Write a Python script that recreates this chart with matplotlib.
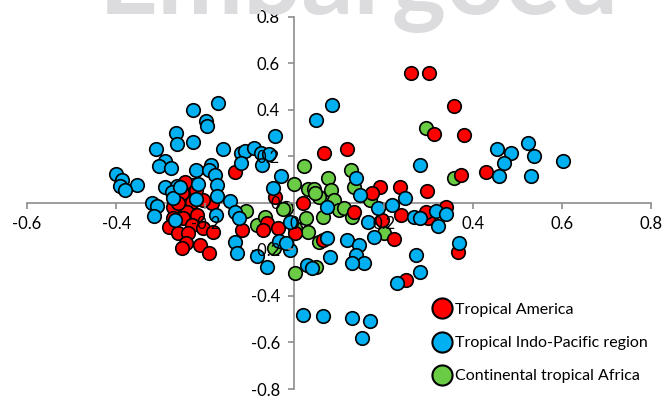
import numpy as np
import matplotlib
matplotlib.use("Agg")
import matplotlib.pyplot as plt
from matplotlib.lines import Line2D
from matplotlib.ticker import FuncFormatter

# ---- data (axis 1 vs axis 2 scores) ----
america_x = [0.261, 0.301, 0.358, 0.380, 0.313, 0.117, 0.067, 0.373, 0.430, 0.191,
             0.236, 0.297, 0.175, 0.020, 0.133, 0.238, 0.196, 0.299, 0.340, 0.295,
             0.223, 0.063, 0.002, 0.367, 0.250, -0.133, -0.227, -0.245, -0.272, -0.238,
             -0.229, -0.184, -0.205, -0.241, -0.218, -0.272, -0.250, -0.229, -0.281, -0.261,
             -0.238, -0.243, -0.252, -0.211, -0.191, -0.117, -0.043, -0.061, -0.036, -0.205,
             -0.182, -0.070, -0.252, -0.261, -0.220]
america_y = [0.558, 0.558, 0.416, 0.292, 0.296, 0.231, 0.214, 0.120, 0.132, 0.068,
             0.068, 0.051, 0.042, -0.001, -0.040, -0.052, -0.074, -0.065, -0.018, -0.040,
             -0.156, -0.160, -0.130, -0.212, -0.332, 0.132, 0.077, 0.089, -0.018, 0.021,
             0.003, -0.001, 0.012, -0.040, -0.052, -0.065, -0.065, -0.095, -0.104, -0.130,
             -0.130, -0.173, -0.194, -0.182, -0.216, -0.117, 0.025, -0.087, -0.108, -0.108,
             -0.126, -0.117, 0.042, -0.001, 0.055]

indopac_x = [-0.310, -0.265, -0.263, -0.290, -0.304, -0.277, -0.400, -0.387, -0.391, -0.353,
             -0.290, -0.263, -0.380, -0.274, -0.272, -0.319, -0.308, -0.315, -0.268, -0.171,
             -0.227, -0.198, -0.196, -0.227, -0.160, -0.043, -0.121, -0.110, -0.090, -0.076,
             -0.058, -0.072, -0.121, -0.220, -0.187, -0.191, -0.178, -0.173, -0.173, -0.031,
             -0.049, -0.216, -0.256, -0.220, -0.144, -0.133, -0.124, -0.175, -0.133, -0.128,
             -0.083, -0.061, -0.011, -0.034, -0.011, 0.029, 0.040, 0.074, 0.085, 0.049,
             0.281, 0.139, 0.148, 0.247, 0.218, 0.187, 0.074, 0.164, 0.178, 0.117,
             -0.020, 0.144, 0.139, 0.155, 0.130, 0.079, 0.268, 0.281, 0.317, 0.340,
             0.322, 0.369, 0.272, 0.281, 0.229, 0.454, 0.486, 0.524, 0.538, 0.470,
             0.459, 0.531, 0.603, 0.020, 0.063, 0.128, 0.169, 0.151]
indopac_y = [0.231, 0.300, 0.253, 0.180, 0.158, 0.150, 0.124, 0.098, 0.072, 0.077,
             0.068, 0.072, 0.055, 0.046, 0.021, -0.001, -0.014, -0.057, -0.074, 0.429,
             0.399, 0.352, 0.330, 0.261, 0.231, 0.287, 0.214, 0.223, 0.236, 0.214,
             0.210, 0.163, 0.171, 0.141, 0.163, 0.141, 0.120, 0.077, 0.029, 0.115,
             0.064, 0.081, 0.068, 0.016, 0.008, -0.040, -0.065, -0.052, -0.169, -0.216,
             -0.229, -0.276, -0.083, -0.164, -0.203, -0.268, -0.280, -0.151, 0.421, 0.356,
             0.163, 0.107, 0.034, 0.021, -0.009, -0.022, -0.018, -0.083, -0.147, -0.160,
             -0.173, -0.182, -0.225, -0.259, -0.259, -0.233, -0.061, -0.065, -0.035, -0.048,
             -0.100, -0.173, -0.225, -0.298, -0.345, 0.231, 0.214, 0.257, 0.201, 0.171,
             0.115, 0.115, 0.180, -0.483, -0.487, -0.495, -0.508, -0.582]

africa_x = [0.295, 0.022, 0.126, 0.076, -0.002, 0.031, 0.043, 0.054, 0.081, 0.088,
            0.133, 0.169, -0.020, 0.025, 0.063, 0.099, 0.112, 0.128, 0.031, 0.056,
            0.200, 0.358, 0.002, 0.049, -0.108, -0.083, -0.065, -0.025, -0.047, 0.002,
            0.047]
africa_y = [0.322, 0.158, 0.141, 0.107, 0.081, 0.059, 0.059, 0.025, 0.055, 0.012,
            0.068, 0.012, -0.022, -0.065, -0.061, -0.031, -0.022, -0.061, -0.126, -0.169,
            -0.130, 0.107, -0.302, -0.276, -0.035, -0.095, -0.061, -0.027, -0.194, -0.108,
            0.042]

labels = ["Tropical America", "Tropical Indo-Pacific region", "Continental tropical Africa"]
colors = ["#FF0000", "#00B0F0", "#6ACC44"]

x_ticks = [-0.6, -0.4, -0.2, 0, 0.2, 0.4, 0.6, 0.8]
y_ticks = [-0.8, -0.6, -0.4, -0.2, 0, 0.2, 0.4, 0.6, 0.8]

plt.rcParams["font.family"] = ["Lato", "DejaVu Sans"]
plt.rcParams["axes.unicode_minus"] = False

fig = plt.figure(figsize=(6.64, 4.0), dpi=100)
ax = fig.add_axes([0.0407, 0.0275, 0.9398, 0.9308])

# watermark at the very top, mostly cut off
fig.text(0.54, 1 - 14 / 400, "Embargoed", ha="center", va="baseline",
         fontsize=74, fontweight="bold", color="#DCDCDE", zorder=0)

ms = 95
edge = dict(edgecolor="black", linewidths=1.2, zorder=1)
ax.scatter(africa_x, africa_y, s=ms, c=colors[2], **edge)
ax.scatter(america_x, america_y, s=ms, c=colors[0], **edge)
ax.scatter(indopac_x, indopac_y, s=ms, c=colors[1], **edge)

ax.set_xlim(-0.6, 0.8)
ax.set_ylim(-0.8, 0.8)
ax.set_xticks(x_ticks)
ax.set_yticks(y_ticks)
fmt = FuncFormatter(lambda v, p: "0" if abs(v) < 1e-9 else f"{v:.1f}")
ax.xaxis.set_major_formatter(fmt)
ax.yaxis.set_major_formatter(fmt)

axis_col = "#8C8C8C"
for side in ["top", "right"]:
    ax.spines[side].set_visible(False)
ax.spines["left"].set_position(("data", 0))
ax.spines["bottom"].set_position(("data", 0))
for side in ["left", "bottom"]:
    ax.spines[side].set_color(axis_col)
    ax.spines[side].set_linewidth(1.2)
    ax.spines[side].set_zorder(0.5)
ax.tick_params(axis="both", direction="out", length=4.5, width=1.2,
               color=axis_col, labelsize=12, labelcolor="black")
ax.tick_params(axis="x", pad=5)
ax.tick_params(axis="y", pad=6)
ax.patch.set_visible(False)

handles = [Line2D([], [], ls="", marker="o", markersize=14.5, markerfacecolor=c,
                  markeredgecolor="black", markeredgewidth=1.5) for c in colors]
ax.legend(handles, labels, loc="upper left", bbox_to_anchor=(0.652, 0.232),
          frameon=False, fontsize=11.5, handlelength=1.0, handletextpad=0.3,
          labelspacing=1.2, borderpad=0, borderaxespad=0)

fig.savefig("out.png", dpi=100)
